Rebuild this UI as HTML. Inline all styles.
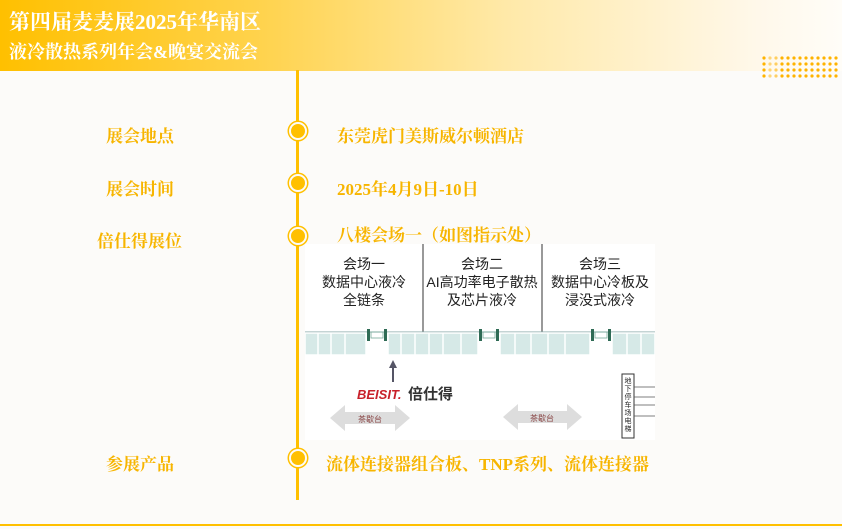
<!DOCTYPE html>
<html><head><meta charset="utf-8"><style>
body{margin:0;width:842px;height:529px;background:#fcfbf9;position:relative;overflow:hidden;font-family:"Liberation Serif","Noto Serif CJK SC",serif}
.hdr{position:absolute;left:0;top:0;width:842px;height:71px;background:linear-gradient(90deg,#ffc000 0%,#ffd24a 30%,#ffe9a8 60%,#fff8ea 90%,#fffdf8 100%)}
.t{position:absolute;color:#fff;font-weight:bold;white-space:nowrap}
.lbl{position:absolute;color:#f7b500;font-weight:bold;font-size:17px;white-space:nowrap}
.dot{position:absolute;width:14px;height:14px;border-radius:50%;background:#ffc000;border:2px solid #fcfbf9;box-shadow:0 0 0 1.5px #ffc000}
.s{font-family:"Liberation Sans","Noto Sans CJK SC",sans-serif}
</style></head><body>
<div class="hdr"></div>
<div class="t" style="left:9px;top:6px;font-size:21px">第四届麦麦展2025年华南区</div>
<div class="t" style="left:9px;top:38px;font-size:18px">液冷散热系列年会&amp;晚宴交流会</div>
<svg style="position:absolute;left:760px;top:55px" width="82" height="25"><g fill="#ffb300">
<g id="c"><circle cx="4" cy="3" r="1.6"/><circle cx="4" cy="9" r="1.6"/><circle cx="4" cy="15" r="1.6"/><circle cx="4" cy="21" r="1.6"/></g>
<use href="#c" x="6" opacity=".5"/><use href="#c" x="12" opacity=".6"/><use href="#c" x="18"/><use href="#c" x="24"/><use href="#c" x="30"/><use href="#c" x="36"/><use href="#c" x="42"/><use href="#c" x="48"/><use href="#c" x="54"/><use href="#c" x="60"/><use href="#c" x="66"/><use href="#c" x="72"/></g></svg>
<div style="position:absolute;left:296px;top:70px;width:3px;height:430px;background:#ffc000"></div>
<div style="position:absolute;left:0;top:524px;width:842px;height:2px;background:#ffc000"></div>
<div class="dot" style="left:289px;top:122px"></div>
<div class="dot" style="left:289px;top:174px"></div>
<div class="dot" style="left:289px;top:227px"></div>
<div class="dot" style="left:289px;top:449px"></div>
<div class="lbl" style="left:106px;top:122px">展会地点</div>
<div class="lbl" style="left:106px;top:175px">展会时间</div>
<div class="lbl" style="left:97px;top:227px">倍仕得展位</div>
<div class="lbl" style="left:106px;top:450px">参展产品</div>
<div class="lbl" style="left:337px;top:122px">东莞虎门美斯威尔顿酒店</div>
<div class="lbl" style="left:337px;top:175px">2025年4月9日-10日</div>
<div class="lbl" style="left:337px;top:221px">八楼会场一（如图指示处）</div>
<div class="lbl" style="left:326px;top:450px">流体连接器组合板、TNP系列、流体连接器</div>
<div style="position:absolute;left:305px;top:244px;width:350px;height:196px;background:#fff"></div>
<svg style="position:absolute;left:305px;top:244px" width="350" height="196" class="s">
<line x1="118" y1="0" x2="118" y2="88" stroke="#333"/>
<line x1="237" y1="0" x2="237" y2="88" stroke="#333"/>
<line x1="0" y1="88" x2="350" y2="88" stroke="#8aa"/>
<g fill="#d6e9e7" stroke="#fff" stroke-width="1.5">
<rect x="0" y="89" width="61" height="22"/><rect x="83" y="89" width="90" height="22"/><rect x="195" y="89" width="90" height="22"/><rect x="307" y="89" width="43" height="22"/>
</g>
<g stroke="#fff" stroke-width="1.5"><line x1="13" y1="89" x2="13" y2="111"/><line x1="26" y1="89" x2="26" y2="111"/><line x1="40" y1="89" x2="40" y2="111"/><line x1="96" y1="89" x2="96" y2="111"/><line x1="110" y1="89" x2="110" y2="111"/><line x1="124" y1="89" x2="124" y2="111"/><line x1="138" y1="89" x2="138" y2="111"/><line x1="156" y1="89" x2="156" y2="111"/><line x1="210" y1="89" x2="210" y2="111"/><line x1="226" y1="89" x2="226" y2="111"/><line x1="243" y1="89" x2="243" y2="111"/><line x1="260" y1="89" x2="260" y2="111"/><line x1="322" y1="89" x2="322" y2="111"/><line x1="336" y1="89" x2="336" y2="111"/></g>
<g fill="#2f6b55"><rect x="62" y="85" width="3" height="12"/><rect x="79" y="85" width="3" height="12"/><rect x="174" y="85" width="3" height="12"/><rect x="191" y="85" width="3" height="12"/><rect x="286" y="85" width="3" height="12"/><rect x="303" y="85" width="3" height="12"/></g>
<g fill="none" stroke="#7a9" stroke-width=".8"><rect x="66" y="88" width="12" height="6"/><rect x="178" y="88" width="12" height="6"/><rect x="290" y="88" width="12" height="6"/></g>
<g font-size="14" fill="#222" text-anchor="middle">
<text x="59" y="25">会场一</text><text x="59" y="43">数据中心液冷</text><text x="59" y="61">全链条</text>
<text x="177" y="25">会场二</text><text x="177" y="43">AI高功率电子散热</text><text x="177" y="61">及芯片液冷</text>
<text x="295" y="25">会场三</text><text x="295" y="43">数据中心冷板及</text><text x="295" y="61">浸没式液冷</text>
</g>
<line x1="88" y1="138" x2="88" y2="122" stroke="#556" stroke-width="2"/><polygon points="84,124 92,124 88,116" fill="#556"/>
<text x="52" y="155" font-size="13" font-weight="bold" font-style="italic" fill="#c8202a">BEISIT.</text>
<text x="103" y="155" font-size="15" font-weight="bold" fill="#333">倍仕得</text>
<polygon points="25,174 40,161 40,168 90,168 90,161 105,174 90,187 90,180 40,180 40,187" fill="#ddd"/>
<text x="65" y="178" font-size="8" fill="#844" text-anchor="middle">茶歇台</text>
<polygon points="198,173 213,160 213,167 262,167 262,160 277,173 262,186 262,179 213,179 213,186" fill="#ddd"/>
<text x="237" y="177" font-size="8" fill="#844" text-anchor="middle">茶歇台</text>
<rect x="317" y="130" width="12" height="64" fill="#fff" stroke="#333"/>
<g font-size="7" fill="#222" text-anchor="middle"><text x="323" y="139">地</text><text x="323" y="147">下</text><text x="323" y="155">停</text><text x="323" y="163">车</text><text x="323" y="171">场</text><text x="323" y="179">电</text><text x="323" y="187">梯</text></g>
<g stroke="#555" stroke-width=".8"><line x1="329" y1="143" x2="350" y2="143"/><line x1="329" y1="153" x2="350" y2="153"/><line x1="329" y1="161" x2="350" y2="161"/><line x1="329" y1="172" x2="350" y2="172"/></g>
</svg>
</body></html>
